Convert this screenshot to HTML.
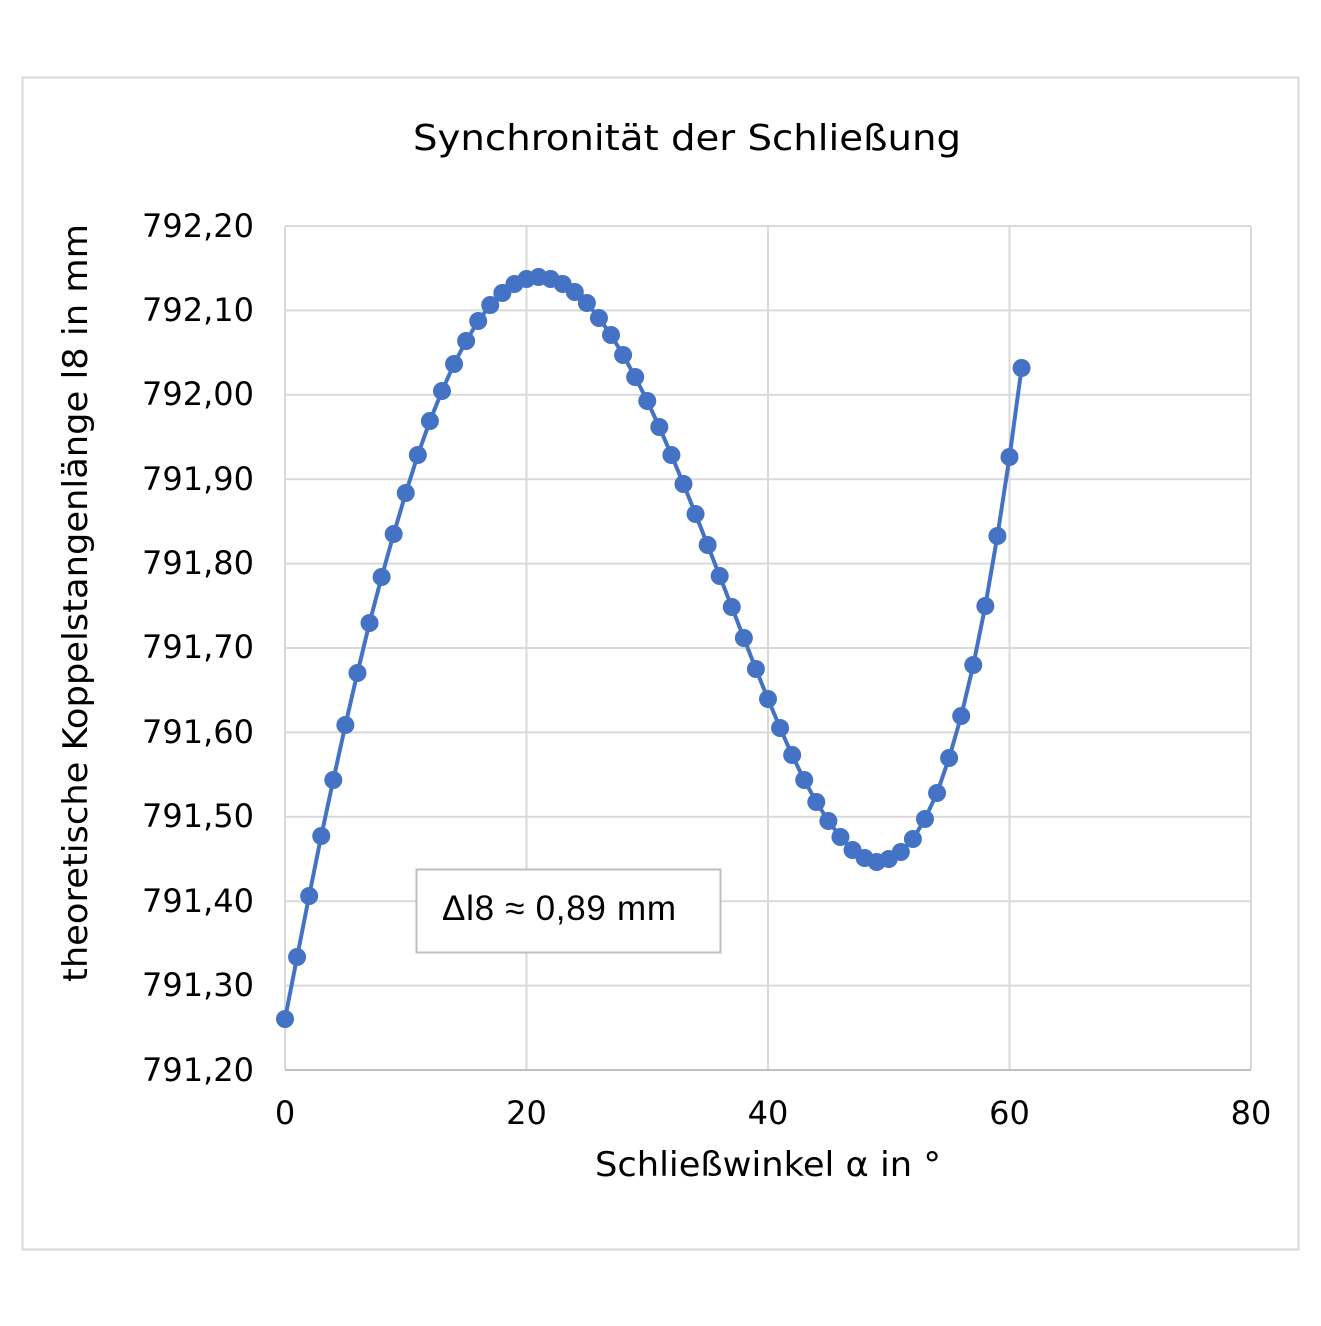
<!DOCTYPE html>
<html><head><meta charset="utf-8"><style>html,body{margin:0;padding:0;background:#fff}</style></head>
<body>
<svg id="s" width="1321" height="1321" xmlns="http://www.w3.org/2000/svg" font-family="'DejaVu Sans', Verdana, sans-serif">
<rect x="0" y="0" width="1321" height="1321" fill="#fff"/>
<rect x="22.5" y="77.5" width="1276" height="1172" fill="#fff" stroke="#d9d9d9" stroke-width="2"/>
<g stroke="#d9d9d9" stroke-width="2">
<line x1="285" y1="226" x2="1251" y2="226"/><line x1="285" y1="310.4" x2="1251" y2="310.4"/>
<line x1="285" y1="394.8" x2="1251" y2="394.8"/><line x1="285" y1="479.2" x2="1251" y2="479.2"/>
<line x1="285" y1="563.6" x2="1251" y2="563.6"/><line x1="285" y1="648" x2="1251" y2="648"/>
<line x1="285" y1="732.4" x2="1251" y2="732.4"/><line x1="285" y1="816.8" x2="1251" y2="816.8"/>
<line x1="285" y1="901.2" x2="1251" y2="901.2"/><line x1="285" y1="985.6" x2="1251" y2="985.6"/>
<line x1="285" y1="226" x2="285" y2="1070"/><line x1="526.5" y1="226" x2="526.5" y2="1070"/>
<line x1="768" y1="226" x2="768" y2="1070"/><line x1="1009.5" y1="226" x2="1009.5" y2="1070"/>
<line x1="1251" y1="226" x2="1251" y2="1070"/>
</g>
<line x1="285" y1="1070" x2="1251" y2="1070" stroke="#bfbfbf" stroke-width="2"/>
<text x="687" y="150" font-size="36" text-anchor="middle" textLength="548" lengthAdjust="spacingAndGlyphs" fill="#000">Synchronität der Schließung</text>
<g font-size="32" text-anchor="end" fill="#000">
<text x="254" y="237">792,20</text><text x="254" y="321">792,10</text><text x="254" y="405">792,00</text>
<text x="254" y="490">791,90</text><text x="254" y="574">791,80</text><text x="254" y="658">791,70</text>
<text x="254" y="743">791,60</text><text x="254" y="827">791,50</text><text x="254" y="912">791,40</text>
<text x="254" y="996">791,30</text><text x="254" y="1081">791,20</text>
</g>
<g font-size="32" text-anchor="middle" fill="#000">
<text x="285" y="1124">0</text><text x="526.5" y="1124">20</text><text x="768" y="1124">40</text>
<text x="1009.5" y="1124">60</text><text x="1251" y="1124">80</text>
</g>
<text x="768" y="1176" font-size="34" text-anchor="middle" textLength="346" lengthAdjust="spacingAndGlyphs" fill="#000">Schließwinkel α in °</text>
<text transform="translate(87,603) rotate(-90)" font-size="34" text-anchor="middle" textLength="758" lengthAdjust="spacingAndGlyphs" fill="#000">theoretische Koppelstangenlänge l8 in mm</text>
<g id="series"></g>
<rect x="416.5" y="869.5" width="304" height="83" fill="#fff" stroke="#bfbfbf" stroke-width="2"/>
<text x="442" y="920" font-family="'Liberation Sans', sans-serif" font-size="35" textLength="234" fill="#000">Δl8 ≈  0,89 mm</text>
</svg>
<script>
var ys=[1019,957,896,836,780,725,673,623,577,534,493,455,421,391,364,341,321,305,293,284,279,277,279,284,292,303,318,335,355,377,401,427,455,484,514,545,576,607,638,669,699,728,755,780,802,821,837,850,858,862,859,852,839,819,793,758,716,665,606,536,457,368];
var g=document.getElementById('series'),ns='http://www.w3.org/2000/svg',pts=[];
for(var i=0;i<ys.length;i++){pts.push((285+12.075*i).toFixed(1)+','+ys[i]);}
var pl=document.createElementNS(ns,'polyline');pl.setAttribute('points',pts.join(' '));
pl.setAttribute('fill','none');pl.setAttribute('stroke','#4472c4');pl.setAttribute('stroke-width','4');g.appendChild(pl);
for(var i=0;i<ys.length;i++){var c=document.createElementNS(ns,'circle');c.setAttribute('cx',285+12.075*i);c.setAttribute('cy',ys[i]);c.setAttribute('r','9');c.setAttribute('fill','#4472c4');g.appendChild(c);}
</script>
</body></html>
